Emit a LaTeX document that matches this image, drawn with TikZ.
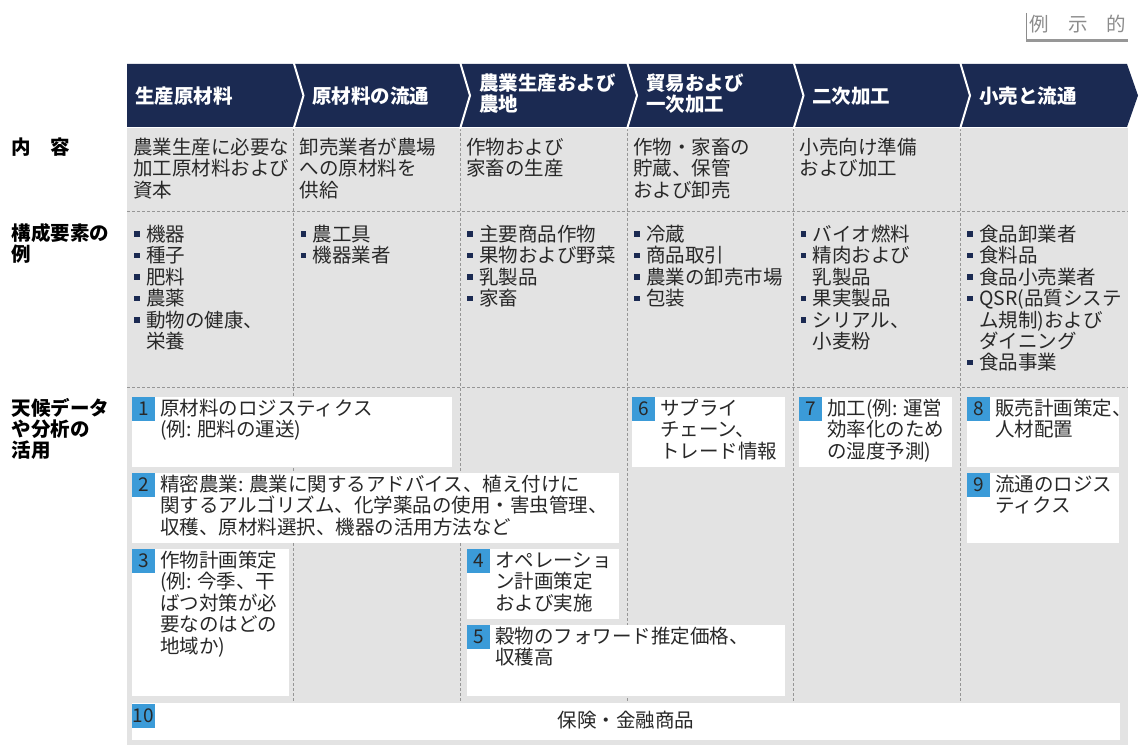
\documentclass[tikz,border=0pt]{standalone}
\usepackage{fontspec}
\setmainfont{Noto Sans CJK JP}
\usetikzlibrary{calc}
\definecolor{navy}{RGB}{27,42,82}
\definecolor{bgg}{RGB}{227,227,227}
\definecolor{badgeblue}{RGB}{59,155,216}
\definecolor{txt}{RGB}{40,40,40}
\definecolor{dashg}{RGB}{150,150,150}
\definecolor{exg}{RGB}{140,140,140}
\newcommand\fst{\rule{0pt}{18pt}}
\newcommand\bul{\makebox[14pt][l]{\hspace*{2pt}\textcolor{navy}{\rule[4.5pt]{5.5pt}{5.5pt}}}}
\newcommand\ind{\hspace*{14pt}}
\newcommand\wbox[7]{%
  \fill[white] (#2,#3) rectangle (#4,#5);
  \node[badge] (#1b) at (#2,#3) {#6};
  \node[body] (#1t) at (#2+28,#3+0.4) {\fst #7};
}
\begin{document}
\begin{tikzpicture}[x=1pt,y=-1pt,
  every node/.style={inner sep=0pt, outer sep=0pt},
  body/.style={anchor=north west, align=left, text=txt, font=\fontsize{19.5}{21.4}\selectfont},
  head/.style={anchor=north west, align=left, text=white, font=\bfseries\fontsize{19.5}{21}\selectfont},
  side/.style={anchor=north west, align=left, text=black, font=\bfseries\fontsize{19.5}{21}\selectfont},
  badge/.style={anchor=north west, fill=badgeblue, minimum width=23pt, minimum height=24pt, text=txt, font=\fontsize{19}{21}\selectfont},
  dline/.style={dashg, dash pattern=on 3pt off 2pt, line width=0.7pt},
  sep/.style={white, line width=2pt},
]
\useasboundingbox (0,0) rectangle (1146,754);

% top-right label
\draw[exg, line width=1pt] (1026,13) -- (1026,41);
\fill[exg!90] (1026,39) rectangle (1128,42.5);
\node[text=exg, font=\fontsize{19.5}{21}\selectfont] (ex) at (1078,24) {例\hspace{19pt}示\hspace{19pt}的};

% background
\fill[bgg] (127,128) rectangle (1128,745);
\foreach \x in {293.5,460,627,793.5,960} \draw[dline] (\x,128) -- (\x,701);
\foreach \y in {211,387} \draw[dline] (127,\y) -- (1128,\y);

% header
\fill[navy] (127,64) -- (1127,64) -- (1138,95.5) -- (1127,127) -- (127,127) -- cycle;
\foreach \x in {293.5,460,627,793.5,960} \draw[sep] (\x,62) -- (\x+10,95.5) -- (\x,129);

\node[head] (h1) at (135,85.4) {\fst 生産原材料};
\node[head] (h2) at (312,85.4) {\fst 原材料の流通};
\node[head] (h3) at (479,72.4) {\fst 農業生産および\\農地};
\node[head] (h4) at (646,72.4) {\fst 貿易および\\一次加工};
\node[head] (h5) at (812,85.4) {\fst 二次加工};
\node[head] (h6) at (979,85.4) {\fst 小売と流通};

% side labels
\node[side] (s1) at (12,136.4) {\fst 内　容};
\node[side] (s2) at (12,222.4) {\fst 構成要素の\\例};
\node[side] (s3) at (12,397.4) {\fst 天候データ\\や分析の\\活用};

% content row
\node[body] (c1) at (133,136.4) {\fst 農業生産に必要な\\加工原材料および\\資本};
\node[body] (c2) at (299.5,136.4) {\fst 卸売業者が農場\\への原材料を\\供給};
\node[body] (c3) at (466,136.4) {\fst 作物および\\家畜の生産};
\node[body] (c4) at (633,136.4) {\fst 作物・家畜の\\貯蔵、保管\\および卸売};
\node[body] (c5) at (799.5,136.4) {\fst 小売向け準備\\および加工};

% components row
\node[body] (e1) at (132,223.4) {\fst\bul 機器\\\bul 種子\\\bul 肥料\\\bul 農薬\\\bul 動物の健康、\\\ind 栄養};
\node[body] (e2) at (298.5,223.4) {\fst\bul 農工具\\\bul 機器業者};
\node[body] (e3) at (465,223.4) {\fst\bul 主要商品作物\\\bul 果物および野菜\\\bul 乳製品\\\bul 家畜};
\node[body] (e4) at (632,223.4) {\fst\bul 冷蔵\\\bul 商品取引\\\bul 農業の卸売市場\\\bul 包装};
\node[body] (e5) at (798.5,223.4) {\fst\bul バイオ燃料\\\bul 精肉および\\\ind 乳製品\\\bul 果実製品\\\bul シリアル、\\\ind 小麦粉};
\node[body] (e6) at (965,223.4) {\fst\bul 食品卸業者\\\bul 食料品\\\bul 食品小売業者\\\bul QSR(品質システ\\\ind ム規制)および\\\ind ダイニング\\\bul 食品事業};

% use boxes
\wbox{b1}{132}{397}{452}{467}{1}{原材料のロジスティクス\\(例: 肥料の運送)}
\wbox{b2}{132}{473}{619}{543}{2}{精密農業: 農業に関するアドバイス、植え付けに\\関するアルゴリズム、化学薬品の使用・害虫管理、\\収穫、原材料選択、機器の活用方法など}
\wbox{b3}{132}{549}{289}{696}{3}{作物計画策定\\(例: 今季、干\\ばつ対策が必\\要なのはどの\\地域か)}
\wbox{b4}{467}{549}{619}{619}{4}{オペレーショ\\ン計画策定\\および実施}
\wbox{b5}{467}{625}{785}{696}{5}{穀物のフォワード推定価格、\\収穫高}
\wbox{b6}{632}{397}{785}{467}{6}{サプライ\\チェーン、\\トレード情報}
\wbox{b7}{799}{397}{952}{467}{7}{加工(例: 運営\\効率化のため\\の湿度予測)}
\wbox{b8}{967}{397}{1119}{467}{8}{販売計画策定、\\人材配置}
\wbox{b9}{967}{473}{1119}{543}{9}{流通のロジス\\ティクス}

\fill[white] (132,703) rectangle (1120,740);
\node[badge, minimum width=23pt, minimum height=24pt] (b10b) at (132,704) {10};
\node[body, anchor=center] (b10t) at (626,720) {保険・金融商品};
\end{tikzpicture}
\end{document}
